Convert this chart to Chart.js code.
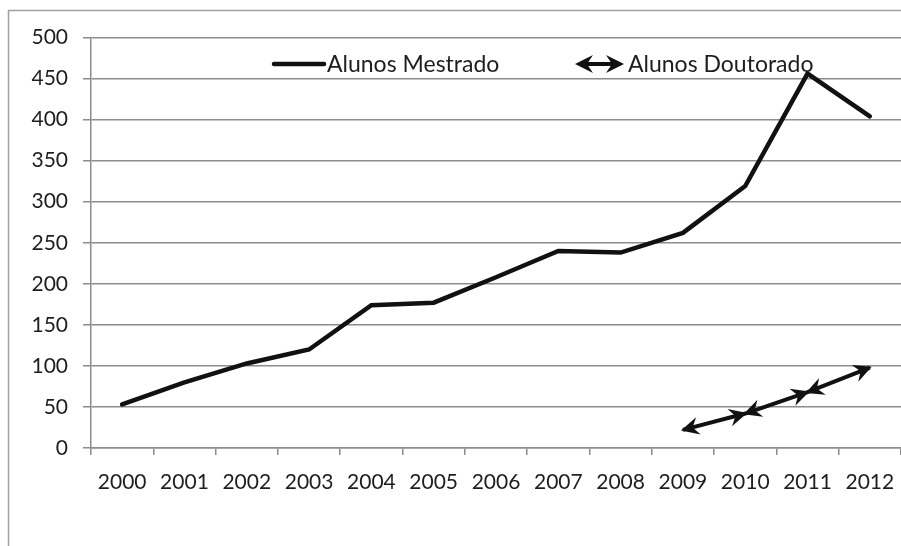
<!DOCTYPE html>
<html>
<head>
<meta charset="utf-8">
<script src="https://cdn.jsdelivr.net/npm/chart.js@4"></script>
<style>
  body { margin: 0; background: #fff; }
  canvas { display: block; }
</style>
</head>
<body>
<canvas id="myChart" width="901" height="546"></canvas>
<script>
const ctx = document.getElementById('myChart').getContext('2d');

// data
const years = ['2000', '2001', '2002', '2003', '2004', '2005', '2006', '2007', '2008', '2009', '2010', '2011', '2012'];
const mestrado = [53, 80, 103, 120, 174, 177, 208, 240, 238, 262, 319, 456, 404];
const doutorado = [null, null, null, null, null, null, null, null, null, 22, 42, 68, 98];
const seriesNames = ['Alunos Mestrado', 'Alunos Doutorado'];

const gridGray = '#8c8c8c';
const textColor = '#1e1e1e';

// stealth arrow head, tip at (x, y), pointing away from (fx, fy)
function arrowHead(c, x, y, fx, fy) {
  let ang = Math.atan2(y - fy, x - fx);
  c.save();
  c.translate(x, y);
  c.rotate(ang);
  c.beginPath();
  c.moveTo(2, 0);
  c.lineTo(-16, -9);
  c.lineTo(-10, 0);
  c.lineTo(-16, 9);
  c.closePath();
  c.fillStyle = '#111';
  c.fill();
  c.restore();
}

// outer frame
const framePlugin = {
  id: 'frame',
  beforeDraw(chart) {
    let c = chart.ctx;
    c.save();
    c.fillStyle = '#fff';
    c.fillRect(0, 0, chart.width, chart.height);
    c.strokeStyle = '#a0a0a0';
    c.lineWidth = 1.5;
    c.strokeRect(8.5, 10.5, chart.width + 20, chart.height + 20);
    c.restore();
  }
};

// arrows on both ends of every segment of the second series
const arrowPlugin = {
  id: 'arrows',
  afterDatasetsDraw(chart) {
    let pts = chart.getDatasetMeta(1).data.filter((p, i) => doutorado[i] != null);
    let c = chart.ctx;
    for (let i = 0; i < pts.length - 1; i++) {
      let a = pts[i], b = pts[i + 1];
      arrowHead(c, a.x, a.y, b.x, b.y);
      arrowHead(c, b.x, b.y, a.x, a.y);
    }
  }
};

// legend drawn inside the plot, like the original
const legendPlugin = {
  id: 'insideLegend',
  afterDraw(chart) {
    let c = chart.ctx;
    let ds = chart.data.datasets;
    let y = 64;
    c.save();
    c.font = '23px Lato';
    c.fillStyle = textColor;
    c.textBaseline = 'middle';
    // first entry: plain line
    c.strokeStyle = '#111';
    c.lineWidth = 4.5;
    c.lineCap = 'round';
    c.beginPath();
    c.moveTo(274, y);
    c.lineTo(324, y);
    c.stroke();
    c.fillText(ds[0].label, 327, y + 1);
    // second entry: double arrow
    c.lineWidth = 4;
    c.lineCap = 'butt';
    c.beginPath();
    c.moveTo(584, y);
    c.lineTo(615, y);
    c.stroke();
    arrowHead(c, 577, y, 600, y);
    arrowHead(c, 622, y, 600, y);
    c.fillText(ds[1].label, 628, y + 1);
    c.restore();
  }
};

let myChart = new Chart(ctx, {
  type: 'line',
  data: {
    labels: years,
    datasets: [
      {
        label: seriesNames[0],
        data: mestrado,
        borderColor: '#111',
        borderWidth: 4.5,
        borderCapStyle: 'round',
        borderJoinStyle: 'miter',
        pointRadius: 0,
        tension: 0,
        fill: false,
      },
      {
        label: seriesNames[1],
        data: doutorado,
        borderColor: '#111',
        borderWidth: 4,
        borderCapStyle: 'butt',
        pointRadius: 0,
        tension: 0,
        fill: false,
      },
    ],
  },
  options: {
    responsive: false,
    animation: false,
    devicePixelRatio: 1,
    layout: { padding: { top: 37.5, left: 0, right: 0, bottom: 0 } },
    plugins: {
      legend: { display: false },
      tooltip: { enabled: false },
    },
    scales: {
      x: {
        offset: true,
        grid: { offset: true, drawOnChartArea: false, tickLength: 7, color: gridGray, lineWidth: 1.5 },
        border: { color: gridGray, width: 1.5 },
        // small padding keeps the last label from pulling the plot in; lineHeight pushes labels down
        ticks: { font: { family: 'Lato', size: 21, lineHeight: 2.05 }, color: textColor, padding: 6, maxRotation: 0, autoSkip: false },
        afterFit(scale) { scale.height = 98; },
      },
      y: {
        min: 0,
        max: 500,
        grid: { color: gridGray, lineWidth: 1.5, tickLength: 8 },
        border: { color: gridGray, width: 1.5 },
        ticks: { stepSize: 50, font: { family: 'Lato', size: 21 }, color: textColor, padding: 15 },
        afterFit(scale) { scale.width = 91; },
      },
    },
  },
  plugins: [framePlugin, arrowPlugin, legendPlugin],
});
</script>
</body>
</html>
